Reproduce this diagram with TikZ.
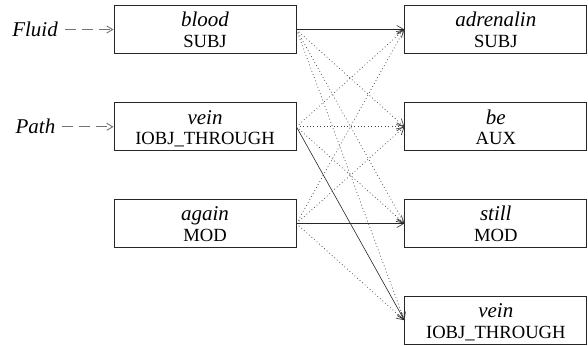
\documentclass[tikz,border=0pt]{standalone}
\usepackage{fontspec}
\setmainfont{Liberation Serif}
\usetikzlibrary{arrows.meta}
\newcommand{\tokbox}[5]{%
  \node[wbox] (#1) at (#2,#3) {};
  \node[wordtxt, anchor=base] (#1w) at ([yshift=-21.6pt]#1.north) {#4};
  \node[labtxt, anchor=base] (#1l) at ([yshift=-42.2pt]#1.north) {#5};
}
\begin{document}
\begin{tikzpicture}[x=1pt,y=-1pt,
  wbox/.style={draw=black!85, line width=0.8pt, minimum width=182pt, minimum height=48pt, inner sep=0pt},
  wordtxt/.style={font=\fontsize{21}{24}\selectfont\itshape, inner sep=0pt},
  labtxt/.style={font=\fontsize{18.6}{22}\selectfont, inner sep=0pt},
  roletxt/.style={font=\fontsize{21}{24}\selectfont\itshape, inner sep=0pt},
  tip/.style={-{Straight Barb[length=7pt,width=8pt]}},
  solidedge/.style={tip, draw=black!85, line width=0.6pt},
  dotedge/.style={tip, draw=black!75, line width=0.7pt, dash pattern=on 0.8pt off 2.6pt},
  roleedge/.style={-{Straight Barb[length=6pt,width=7pt]}, draw=black!55, line width=0.9pt, dash pattern=on 11pt off 6pt},
]
\useasboundingbox (0,0) rectangle (588,345);

\tokbox{L1}{205}{29.5}{blood}{SUBJ}
\tokbox{L2}{205}{126.8}{vein}{IOBJ\_THROUGH}
\tokbox{L3}{205}{223.5}{again}{MOD}

\tokbox{R1}{495.8}{29.5}{adrenalin}{SUBJ}
\tokbox{R2}{495.8}{126.8}{be}{AUX}
\tokbox{R3}{495.8}{223.5}{still}{MOD}
\tokbox{R4}{495.8}{320.3}{vein}{IOBJ\_THROUGH}

\node[roletxt, anchor=base east] (fluid) at (58,36.7) {Fluid};
\node[roletxt, anchor=base east] (path) at (55.5,133.3) {Path};

\draw[roleedge, shorten <=7pt] (fluid.east |- L1.west) -- (L1.west);
\draw[roleedge, shorten <=6pt] (path.east |- L2.west) -- (L2.west);

% dotted alignments
\draw[dotedge] (L1.east) -- (R2.west);
\draw[dotedge] (L1.east) -- (R3.west);
\draw[dotedge] (L1.east) -- (R4.west);
\draw[dotedge] (L2.east) -- (R1.west);
\draw[dotedge] (L2.east) -- (R2.west);
\draw[dotedge] (L2.east) -- (R3.west);
\draw[dotedge] (L3.east) -- (R1.west);
\draw[dotedge] (L3.east) -- (R2.west);
\draw[dotedge] (L3.east) -- (R4.west);

% solid alignments
\draw[solidedge] (L1.east) -- (R1.west);
\draw[solidedge] (L2.east) -- (R4.west);
\draw[solidedge] (L3.east) -- (R3.west);
\end{tikzpicture}
\end{document}
